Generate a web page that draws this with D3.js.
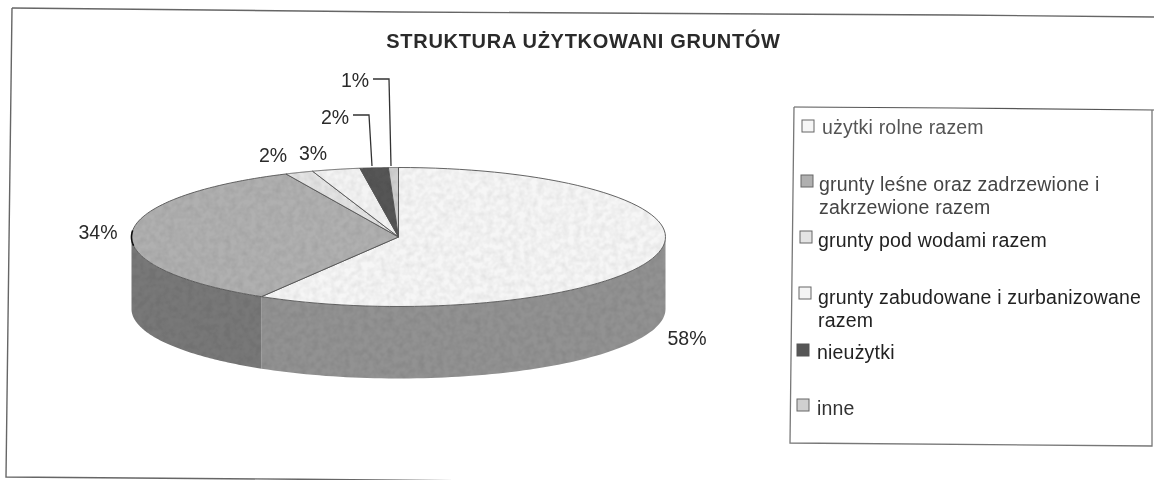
<!DOCTYPE html>
<html><head><meta charset="utf-8">
<script src="https://cdn.jsdelivr.net/npm/d3@7/dist/d3.min.js"></script>
<style>html,body{margin:0;background:#fff}svg{display:block}text{font-family:"Liberation Sans",Arial,sans-serif;fill:#2a2a2a}</style>
</head><body><svg id="c" width="1154" height="480">
<defs>
<filter id="grain" x="0" y="0" width="100%" height="100%">
<feTurbulence type="fractalNoise" baseFrequency="0.16" numOctaves="2" seed="4" result="n"/>
<feColorMatrix in="n" type="matrix" values="0 0 0 0 0.5  0 0 0 0 0.5  0 0 0 0 0.5  0.55 0 0 0 -0.17" result="g"/>
<feComposite in="g" in2="SourceGraphic" operator="in" result="gc"/>
<feBlend in="SourceGraphic" in2="gc" mode="multiply"/>
</filter>
<filter id="soft"><feGaussianBlur stdDeviation="0.45"/></filter>
</defs></svg>
<script>
const categories=["użytki rolne razem","grunty leśne oraz zadrzewione i zakrzewione razem","grunty pod wodami razem","grunty zabudowane i zurbanizowane razem","nieużytki","inne"];
const values=[58.4,34.4,1.7,2.9,1.7,0.6];
const valueLabels=["58%","34%","2%","3%","2%","1%"];
const legendLines=[["użytki rolne razem"],["grunty leśne oraz zadrzewione i","zakrzewione razem"],["grunty pod wodami razem"],["grunty zabudowane i zurbanizowane","razem"],["nieużytki"],["inne"]];
const legendInk=["#555","#444","#222","#222","#222","#333"];
const topColors=["#f6f6f6","#b0b0b0","#e4e4e4","#f4f4f4","#565656","#d0d0d0"];
const sideColors=["#929292","#787878","#888888","#929292","#505050","#888888"];
const svg=d3.select("#c");
const cx=398.5,cy=237,rx=267,ry=69.5,depth=72;
const pie=d3.pie().sort(null).value(d=>d)(values);
const pt=(a,dy=0)=>[cx+rx*Math.sin(a),cy-ry*Math.cos(a)+dy];
const line=d3.line();
const soft=svg.append("g").attr("filter","url(#soft)");

// frame + legend box
soft.append("path").attr("d",line([[12,8],[400,12],[954,15],[1154,17]])).attr("stroke","#666").attr("stroke-width",1.4).attr("fill","none");
soft.append("path").attr("d",line([[12,8],[6,477],[300,479.3],[480,481]])).attr("stroke","#666").attr("stroke-width",1.4).attr("fill","none");
soft.append("path").attr("d",line([[794,107],[954,108],[1154,110]])).attr("stroke","#555").attr("stroke-width",1.2).attr("fill","none");
soft.append("path").attr("d",line([[794,107],[790,443],[1152,446],[1152,110]])).attr("stroke","#777").attr("stroke-width",1.3).attr("fill","none");

soft.append("text").attr("x",583.5).attr("y",48).attr("text-anchor","middle").attr("font-size",20).attr("font-weight","bold").attr("letter-spacing",".7").text("STRUKTURA UŻYTKOWANI GRUNTÓW");

// side wall: only the visible front half of every slice
const g=soft.append("g").attr("filter","url(#grain)");
function arcPath(a0,a1,dy,n=80){return d3.range(n+1).map(i=>pt(a0+(a1-a0)*i/n,dy));}
pie.forEach((s,i)=>{
  const a0=Math.max(s.startAngle,Math.PI/2),a1=Math.min(s.endAngle,Math.PI*1.5);
  if(a1<=a0)return;
  const top=arcPath(a0,a1,0),bot=arcPath(a0,a1,depth).reverse();
  g.append("path").attr("d",line(top.concat(bot))+"Z").attr("fill",sideColors[i]);
});
// top faces
pie.forEach((s,i)=>{
  const p=arcPath(s.startAngle,s.endAngle,0);
  g.append("path").attr("d",line([[cx,cy]].concat(p))+"Z").attr("fill",topColors[i]).attr("stroke","#555").attr("stroke-width",.9).attr("stroke-linejoin","round");
});
// dark scanned edge on the far left of the rim
soft.append("path").attr("d",line(arcPath(Math.PI*1.46,Math.PI*1.53,0,12))).attr("stroke","#111").attr("stroke-width",1.6).attr("fill","none");

// labels
const labelPos=[[687,338],[98,232],[273,155],[313,153],[335,117],[355,80]];
valueLabels.forEach((t,i)=>soft.append("text").attr("x",labelPos[i][0]).attr("y",labelPos[i][1]+7).attr("text-anchor","middle").attr("font-size",19.5).text(t));
// leader lines
soft.append("path").attr("d",line([[353,115],[369,115],[372,166]])).attr("stroke","#333").attr("stroke-width",1.3).attr("fill","none");
soft.append("path").attr("d",line([[373,79],[389,79],[391,166]])).attr("stroke","#333").attr("stroke-width",1.3).attr("fill","none");

// legend
const keyX=[802,801,800,799,797,797];
const keyY=[126,181,237,293,350,405];
const textX=[822,819,818,818,817,817];
const textY=[134,191,247,304,359,415];
categories.forEach((c,i)=>{
  soft.append("rect").attr("x",keyX[i]).attr("y",keyY[i]-6).attr("width",12).attr("height",12).attr("fill",topColors[i]).attr("stroke",i==4?"#555":"#666");
  legendLines[i].forEach((l,j)=>soft.append("text").attr("x",textX[i]).attr("y",textY[i]+j*23).attr("font-size",19.5).attr("letter-spacing",".2").style("fill",legendInk[i]).text(l));
});
</script></body></html>
